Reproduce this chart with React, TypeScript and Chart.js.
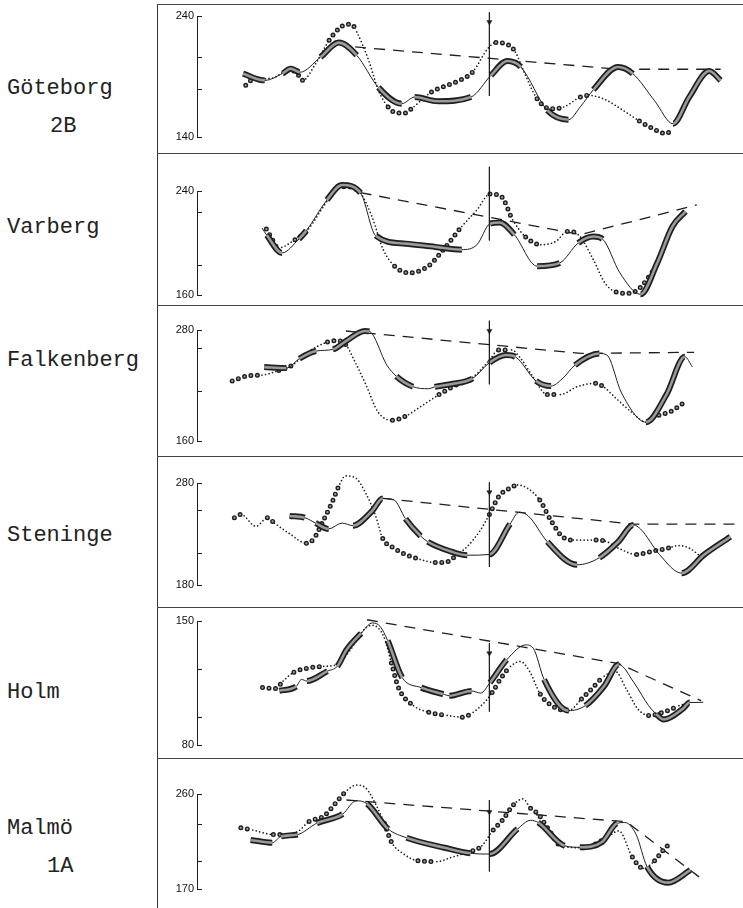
import React, { useEffect, useRef } from 'react';
import { Chart, registerables } from 'chart.js';
Chart.register(...registerables);

// ---------- station names ----------
const stationNames = ['Göteborg', 'Varberg', 'Falkenberg', 'Steninge', 'Holm', 'Malmö'];
const stationCodes = ['2B', '', '', '', '', '1A'];

// ---------- Göteborg 2B ----------
const gbSolidX = [8.5, 12.5, 15.8, 17.3, 19.0, 22.8, 26.2, 29.5, 33.5, 37.8, 40.2, 44.5, 50.6, 54.3, 57.3, 59.8, 64.7, 68.6, 70.8, 73.2, 77.8, 80.5, 84.5, 87.9, 90.9, 94.6, 96.7];
const gbSolidY = [192.3, 186.8, 192.5, 196.5, 193.5, 206, 218, 207.5, 181, 167.5, 173, 169.5, 173, 191, 202.8, 197.9, 162, 154.3, 165, 179, 197.9, 192.3, 170, 151, 173, 194.5, 186.8];
const gbSolidThick = [1, 0, 1, 1, 0, 1, 1, 0, 1, 0, 1, 1, 0, 1, 1, 0, 1, 0, 0, 1, 1, 0, 0, 1, 1, 1, 0];
const gbDotX = [9.0, 10.0, 14.0, 16.7, 18.3, 19.5, 21.9, 24.4, 26.2, 27.7, 28.6, 29.5, 31.7, 33.5, 35.3, 36.9, 38.4, 39.6, 43.3, 45.7, 48.8, 50.9, 53.7, 55.2, 57.6, 58.8, 60.4, 62.8, 65.3, 67.7, 70.8, 72.3, 75.0, 78.7, 81.7, 84.2, 86.6, 87.9];
const gbDotY = [182.7, 186.8, 188.8, 195, 193.7, 186.8, 200.6, 219.9, 229.5, 233.1, 233, 226.8, 203.4, 178.6, 164.8, 159.8, 159.8, 163.4, 177.2, 181.9, 187.4, 193.7, 213, 218, 215.8, 210.2, 193.7, 171.7, 163.4, 164.8, 173, 174.4, 171.7, 162, 153.2, 146.9, 142.8, 146.9];
const gbDotBig = [1, 0, 0, 1, 1, 0, 0, 1, 1, 1, 1, 0, 0, 0, 1, 1, 1, 0, 1, 1, 1, 0, 0, 1, 1, 0, 0, 1, 1, 0, 1, 0, 0, 0, 1, 1, 1, 0];
const gbDashX = [29.2, 77.8, 96.7];
const gbDashY = [214.4, 196, 196];
const gbTicks = [140, 180, 206, 240];
const gbArrow = [243, 174, 235];

// ---------- Varberg ----------
const vbSolidX = [12.0, 12.9, 15.7, 18.8, 20.2, 24.0, 26.8, 30.2, 33.0, 38.5, 44.0, 48.9, 51.7, 54.1, 55.9, 58.6, 62.8, 67.0, 70.4, 73.2, 74.9, 78.1, 81.9, 85.0, 87.8, 90.2];
const vbSolidY = [211.5, 206, 192.4, 203, 209.5, 233.1, 244.6, 238.5, 205.6, 199.5, 197, 194.9, 198.7, 214.8, 215.8, 206.4, 182.2, 184.7, 200, 205, 203, 177, 160.5, 184.7, 212.7, 224.2];
const vbSolidThick = [0, 1, 0, 1, 0, 1, 1, 0, 1, 1, 1, 0, 0, 1, 1, 0, 1, 0, 1, 1, 0, 0, 1, 1, 1, 0];
const vbDotX = [12.8, 13.6, 15.0, 18.1, 20.2, 24.7, 27.1, 30.2, 32.3, 34.4, 36.5, 39.2, 42.7, 45.5, 48.9, 51.7, 54.1, 56.2, 58.3, 60.7, 63.5, 66.3, 68.4, 70.4, 73.2, 75.3, 77.4, 79.8, 81.5, 84.5];
const vbDotY = [210.7, 205.1, 196.2, 202.5, 208.9, 235.7, 243.3, 238.2, 220.4, 194.9, 182.2, 177, 182.2, 194.9, 212.7, 225.5, 237.7, 235.7, 217.8, 204.6, 198.7, 201.3, 208.9, 206.4, 187.2, 169.4, 162.3, 161.3, 164.3, 180];
const vbDotBig = [1, 1, 0, 1, 0, 0, 1, 0, 0, 0, 1, 1, 1, 1, 0, 0, 1, 1, 0, 1, 0, 0, 1, 0, 0, 0, 1, 1, 1, 0];
const vbDashX = [30.2, 70.8, 92.3];
const vbDashY = [238.7, 206.4, 229.3];
const vbTicks = [160, 183, 224, 240];
const vbArrow = [258.6, 202, 250];

// ---------- Falkenberg ----------
const fbSolidX = [12.4, 16.5, 18.9, 22.0, 25.1, 27.5, 31.0, 31.8, 35.1, 36.8, 39.9, 42.7, 43.9, 46.8, 50.9, 54.0, 57.1, 58.8, 62.6, 65.4, 67.4, 69.8, 74.3, 75.7, 78.4, 82.9, 86.7, 90.1, 91.5];
const fbSolidY = [239.9, 238.8, 249, 257.3, 259, 268, 278.9, 278.5, 241.7, 230, 218.7, 216.5, 218.5, 221.3, 227.6, 244.7, 252.9, 251, 225, 219.4, 226.9, 242, 254.6, 252.9, 212, 180.4, 210.2, 251, 239.9];
const fbSolidThick = [1, 0, 1, 0, 1, 1, 1, 0, 0, 1, 0, 0, 1, 1, 0, 1, 1, 0, 1, 0, 0, 1, 0, 0, 0, 1, 1, 0, 0];
const fbDotX = [6.5, 9.6, 12.0, 15.1, 17.5, 20.6, 24.1, 26.1, 27.5, 29.2, 31.3, 33.4, 36.1, 38.5, 41.3, 44.7, 47.5, 50.9, 54.0, 55.7, 58.1, 59.8, 61.9, 64.7, 67.1, 70.2, 73.6, 75.3, 77.0, 80.5, 82.9, 85.3, 87.4, 89.8];
const fbDotY = [225, 230.6, 231.3, 236.2, 241.7, 256.6, 267, 268.5, 264, 245.4, 219.4, 191.6, 182.3, 186.8, 197.2, 210.2, 219.4, 228.7, 247.3, 258.5, 258.5, 249.2, 230.6, 210.2, 210.2, 218.7, 222.4, 217.6, 208.3, 190, 180.4, 187.9, 191.6, 200.9];
const fbDotBig = [1, 1, 0, 1, 0, 0, 1, 1, 0, 0, 0, 0, 1, 0, 0, 1, 1, 0, 0, 1, 0, 0, 0, 1, 0, 0, 1, 0, 0, 0, 0, 1, 1, 0];
const fbDashX = [27.5, 70.9, 91.8];
const fbDashY = [278.9, 254.7, 255.9];
const fbTicks = [160, 214, 261, 280];
const fbArrow = [290, 221.3, 279];

// ---------- Steninge ----------
const snSolidX = [17.1, 19.9, 21.9, 24.3, 26.8, 28.8, 32.3, 34.3, 36.4, 38.5, 41.3, 42.6, 46.8, 49.9, 54.0, 57.8, 59.5, 61.2, 64.7, 70.2, 74.3, 77.8, 80.6, 81.9, 85.4, 89.5, 93.7, 98.5];
const snSolidY = [247.6, 246, 240.7, 235, 240.7, 238.2, 252.3, 264.9, 263.3, 245, 228, 222.4, 213, 209.2, 209.9, 239.7, 251.4, 247.6, 222.4, 199.8, 206.7, 222.4, 238.8, 235, 209.9, 191.6, 209.9, 227.2];
const snSolidThick = [1, 0, 1, 0, 0, 1, 1, 0, 0, 1, 0, 1, 1, 0, 1, 0, 0, 0, 1, 0, 1, 1, 0, 0, 0, 1, 1, 0];
const snDotX = [6.9, 8.1, 10.9, 13.0, 14.3, 17.1, 20.2, 21.6, 23.3, 25.0, 26.1, 27.4, 29.2, 31.2, 33.0, 34.3, 36.4, 38.5, 41.2, 44.0, 46.1, 48.1, 49.9, 52.3, 54.0, 55.7, 58.1, 59.2, 61.2, 63.3, 65.4, 67.5, 69.5, 73.7, 75.4, 77.8, 81.2, 84.0, 87.1, 88.8, 90.9, 93.3];
const snDotY = [246, 249.2, 237.5, 246, 240.7, 230.3, 220.9, 225.6, 242.9, 261.8, 275.9, 286.9, 285.3, 269.6, 247.6, 225.6, 216.2, 209.9, 205.1, 202, 202.6, 209.9, 217.7, 233.5, 249.2, 266.5, 275.9, 278.1, 274.3, 263.3, 242.9, 227.2, 224, 224, 223.1, 216.2, 209.9, 213, 216.2, 218.7, 216.2, 206.7];
const snDotBig = [1, 0, 0, 1, 0, 0, 1, 1, 1, 1, 0, 0, 0, 0, 0, 1, 1, 1, 0, 1, 1, 0, 0, 0, 1, 1, 1, 0, 0, 1, 1, 1, 0, 1, 0, 0, 1, 1, 0, 0, 0, 0];
const snDashX = [34.3, 80.6, 99.5];
const snDashY = [264.9, 239.7, 239.7];
const snTicks = [180, 211, 254, 280];
const snArrow = [280.6, 197.9, 271];

// ---------- Holm ----------
const hoSolidX = [15.2, 18.3, 19.3, 20.3, 24.1, 25.9, 27.6, 30.3, 32.4, 33.8, 35.2, 37.9, 41.4, 45.5, 46.6, 50.7, 52.4, 54.1, 57.2, 60.7, 62.1, 64.1, 68.6, 71.7, 75.2, 77.9, 80.7, 83.4, 84.8, 86.2, 89.7, 91.0, 93.5];
const hoSolidY = [110.6, 113, 117, 116.1, 121.7, 124.4, 133.7, 143, 148.9, 147, 139, 118, 112.4, 108.7, 107.8, 110.5, 109.3, 115.2, 128.1, 136.5, 134.6, 117, 99.4, 102.2, 113.3, 125.4, 115.2, 102.2, 97.5, 94.4, 100.4, 104, 104.1];
const hoSolidThick = [1, 0, 0, 1, 0, 1, 1, 0, 0, 0, 1, 0, 1, 0, 1, 0, 0, 1, 0, 0, 0, 1, 0, 1, 1, 0, 0, 0, 1, 1, 1, 0, 0];
const hoDotX = [12.1, 14.5, 15.9, 17.9, 20.7, 23.4, 25.9, 28.3, 31.0, 32.4, 34.5, 35.9, 37.2, 40.0, 42.8, 46.2, 49.0, 51.0, 53.1, 54.5, 56.2, 57.9, 59.7, 61.4, 63.4, 65.5, 68.6, 71.0, 73.1, 75.2, 77.2, 79.3, 81.4, 83.4, 86.9, 89.0, 91.0];
const hoDotY = [112.4, 111.9, 116.1, 121.1, 123.5, 124.4, 125.4, 133.7, 145.7, 147.6, 141.1, 126.3, 112.4, 102.2, 98.5, 96.7, 95.7, 98.5, 104.1, 109.6, 118, 124.4, 127.2, 121.7, 108.7, 102.2, 99.4, 105.9, 112.4, 118.9, 121.7, 111.5, 100.4, 96.7, 99.4, 102.2, 104.1];
const hoDotBig = [1, 1, 0, 1, 1, 0, 0, 0, 0, 0, 0, 1, 1, 0, 1, 0, 1, 0, 0, 1, 1, 0, 0, 0, 1, 1, 0, 1, 1, 0, 0, 0, 0, 1, 1, 0, 0];
const hoDashX = [31.4, 77.9, 93.1];
const hoDashY = [150.7, 125.9, 105];
const hoTicks = [80, 96, 123, 150];
const hoArrow = [137.4, 98.9, 131.8];

// ---------- Malmö 1A ----------
const mmSolidX = [9.9, 13.9, 15.5, 18.6, 22.1, 26.9, 29.4, 31.4, 35.3, 38.7, 45.7, 50.5, 54.0, 59.2, 61.6, 63.0, 67.9, 70.7, 74.8, 77.6, 79.0, 81.1, 83.1, 87.0, 91.1];
const mmSolidY = [216.5, 213.8, 219.8, 221.6, 232.3, 241, 253.6, 250.8, 226.9, 218.5, 209.1, 203.8, 203.1, 226.9, 235.1, 233, 210.9, 209.5, 214.5, 232.3, 233, 221.6, 191.3, 176, 187.8];
const mmSolidThick = [1, 0, 1, 0, 1, 0, 0, 1, 0, 1, 1, 0, 1, 0, 0, 1, 0, 1, 1, 0, 0, 0, 1, 1, 0];
const mmDotX = [8.1, 10.3, 14.1, 15.8, 18.6, 20.7, 23.5, 25.5, 27.3, 29.4, 31.1, 33.2, 34.6, 35.9, 38.0, 40.8, 44.3, 47.1, 49.8, 52.6, 54.7, 56.4, 58.5, 60.2, 61.6, 63.0, 65.1, 67.2, 71.3, 75.5, 77.9, 80.4, 82.4, 84.5, 85.9, 87.0];
const mmDotY = [228, 225.9, 221.6, 221.6, 224.4, 234, 239.4, 250.8, 261.4, 268.5, 266, 248.3, 232.3, 214.5, 203.8, 196.7, 196, 200.2, 204.5, 210.9, 225.9, 235.1, 250.1, 255.4, 246.5, 241.1, 225.1, 210.9, 209.1, 218, 225.1, 200.2, 189.6, 196.7, 205.6, 211.6];
const mmDotBig = [1, 0, 1, 0, 0, 1, 1, 1, 0, 0, 0, 0, 1, 0, 0, 1, 0, 0, 1, 0, 1, 1, 0, 0, 1, 1, 1, 0, 1, 0, 0, 1, 0, 1, 1, 0];
const mmDashX = [27.6, 79.3, 93.2];
const mmDashY = [254.3, 233.7, 179.6];
const mmTicks = [170, 197, 232, 260];
const mmArrow = [254.3, 186.7, 243];

const arrowX = 54;

// ---------- layout (pixels, not data) ----------
const PAGE_W = 743;
const PAGE_H = 908;
const FRAME_LEFT = 157;
const CANVAS_W = PAGE_W - FRAME_LEFT;
const AXIS_W = 40;
const panelTop = [4, 153, 305, 456, 607, 758];
const panelBottom = [153, 305, 456, 607, 758, 908];
const tickTopPx = [16, 191, 330, 483, 621, 794];
const tickBotPx = [137, 295, 441, 585, 745, 889];
const nameCenterY = [89, 228, 361, 536, 693, 829];
const codeCenterY = [127, 0, 0, 0, 0, 867];
const codeLeft = [50, 0, 0, 0, 0, 47];

const PANELS = [
  { sx: gbSolidX, sy: gbSolidY, st: gbSolidThick, dx: gbDotX, dy: gbDotY, db: gbDotBig, ex: gbDashX, ey: gbDashY, ticks: gbTicks, arrow: gbArrow },
  { sx: vbSolidX, sy: vbSolidY, st: vbSolidThick, dx: vbDotX, dy: vbDotY, db: vbDotBig, ex: vbDashX, ey: vbDashY, ticks: vbTicks, arrow: vbArrow },
  { sx: fbSolidX, sy: fbSolidY, st: fbSolidThick, dx: fbDotX, dy: fbDotY, db: fbDotBig, ex: fbDashX, ey: fbDashY, ticks: fbTicks, arrow: fbArrow },
  { sx: snSolidX, sy: snSolidY, st: snSolidThick, dx: snDotX, dy: snDotY, db: snDotBig, ex: snDashX, ey: snDashY, ticks: snTicks, arrow: snArrow },
  { sx: hoSolidX, sy: hoSolidY, st: hoSolidThick, dx: hoDotX, dy: hoDotY, db: hoDotBig, ex: hoDashX, ey: hoDashY, ticks: hoTicks, arrow: hoArrow },
  { sx: mmSolidX, sy: mmSolidY, st: mmSolidThick, dx: mmDotX, dy: mmDotY, db: mmDotBig, ex: mmDashX, ey: mmDashY, ticks: mmTicks, arrow: mmArrow },
];

const INK = '#1e1e1e';

const inwardTicks = {
  id: 'inwardTicks',
  afterDraw(chart: any) {
    const s = chart.scales.y;
    const ctx = chart.ctx;
    const left = chart.chartArea.left;
    ctx.save();
    ctx.strokeStyle = INK;
    ctx.lineWidth = 1;
    s.ticks.forEach((t: any) => {
      const y = Math.round(s.getPixelForValue(t.value)) + 0.5;
      ctx.beginPath();
      ctx.moveTo(left, y);
      ctx.lineTo(left + 5, y);
      ctx.stroke();
    });
    ctx.restore();
  },
};

function pts(xs: number[], ys: number[]) {
  return xs.map((x, i) => ({ x, y: ys[i] }));
}

function buildConfig(idx: number): any {
  const p = PANELS[idx];
  const solid = pts(p.sx, p.sy);
  const dots = pts(p.dx, p.dy);
  const dash = pts(p.ex, p.ey);
  const tickMin = p.ticks[0];
  const tickMax = p.ticks[p.ticks.length - 1];
  const thick = (c: any) => p.st[c.p0DataIndex] === 1;
  const big = (c: any) => p.db[c.p0DataIndex] === 1;
  const common = {
    pointRadius: 0,
    clip: false,
    capBezierPoints: false,
    cubicInterpolationMode: 'monotone',
  };
  return {
    type: 'line',
    data: {
      datasets: [
        {
          ...common,
          order: 9,
          data: dash,
          borderColor: INK,
          borderWidth: 1.3,
          borderDash: [11, 8],
          cubicInterpolationMode: 'default',
          tension: 0,
        },
        {
          ...common,
          order: 8,
          data: dots,
          borderColor: INK,
          borderCapStyle: 'round',
          segment: {
            borderWidth: (c: any) => (big(c) ? 5 : 1.7),
            borderDash: (c: any) => (big(c) ? [0, 6.5] : [0, 3.6]),
            borderCapStyle: () => 'round',
          },
        },
        {
          ...common,
          order: 7,
          data: dots,
          borderColor: 'rgba(0,0,0,0)',
          borderCapStyle: 'round',
          segment: {
            borderColor: (c: any) => (big(c) ? '#a0a0a0' : 'rgba(0,0,0,0)'),
            borderWidth: (c: any) => (big(c) ? 2.2 : 0.5),
            borderDash: (c: any) => (big(c) ? [0, 6.5] : [0, 3.6]),
            borderCapStyle: () => 'round',
          },
        },
        {
          ...common,
          order: 6,
          data: solid,
          borderColor: INK,
          segment: {
            borderWidth: (c: any) => (thick(c) ? 6 : 1),
          },
        },
        {
          ...common,
          order: 5,
          data: solid,
          borderColor: 'rgba(0,0,0,0)',
          segment: {
            borderColor: (c: any) => (thick(c) ? '#9a9a9a' : 'rgba(0,0,0,0)'),
            borderWidth: (c: any) => (thick(c) ? 2.6 : 0.5),
          },
        },
        {
          ...common,
          order: 4,
          data: [
            { x: arrowX, y: p.arrow[0] },
            { x: arrowX, y: p.arrow[1] },
          ],
          borderColor: INK,
          borderWidth: 1,
          cubicInterpolationMode: 'default',
          tension: 0,
        },
        {
          order: 3,
          clip: false,
          data: [{ x: arrowX, y: p.arrow[2] }],
          showLine: false,
          pointStyle: 'triangle',
          pointRotation: 180,
          pointRadius: 3,
          pointBackgroundColor: INK,
          pointBorderColor: INK,
          pointBorderWidth: 0.5,
        },
      ],
    },
    options: {
      responsive: false,
      maintainAspectRatio: false,
      animation: false,
      events: [],
      layout: {
        padding: {
          top: tickTopPx[idx] - panelTop[idx],
          bottom: panelBottom[idx] - tickBotPx[idx],
          left: 0,
          right: 0,
        },
      },
      plugins: { legend: { display: false }, tooltip: { enabled: false } },
      scales: {
        x: { type: 'linear', min: 0, max: 100, display: false },
        y: {
          type: 'linear',
          min: tickMin,
          max: tickMax,
          afterBuildTicks: (s: any) => {
            s.ticks = p.ticks.map((v) => ({ value: v }));
          },
          afterFit: (s: any) => {
            s.width = AXIS_W;
          },
          grid: { display: false, drawTicks: false },
          border: { display: true, color: INK, width: 1 },
          ticks: {
            autoSkip: false,
            padding: 3,
            color: '#111',
            font: { family: 'Liberation Sans', size: 11 },
            callback: (v: any) => (v === tickMin || v === tickMax ? String(v) : ''),
          },
        },
      },
    },
    plugins: [inwardTicks],
  };
}

function Panel({ idx }: { idx: number }) {
  const ref = useRef<HTMLCanvasElement | null>(null);
  useEffect(() => {
    if (!ref.current) return;
    const chart = new Chart(ref.current, buildConfig(idx));
    return () => chart.destroy();
  }, [idx]);
  const h = panelBottom[idx] - panelTop[idx];
  return (
    <canvas
      ref={ref}
      width={CANVAS_W}
      height={h}
      style={{ position: 'absolute', left: FRAME_LEFT, top: panelTop[idx], width: CANVAS_W, height: h }}
    />
  );
}

const labelStyle: React.CSSProperties = {
  position: 'absolute',
  fontFamily: "'Liberation Mono', 'DejaVu Sans Mono', monospace",
  fontSize: 22,
  lineHeight: '22px',
  color: '#222',
  whiteSpace: 'pre',
};

export default function App() {
  return (
    <div
      style={{
        position: 'absolute',
        left: 0,
        top: 0,
        width: PAGE_W,
        height: PAGE_H,
        background: '#fff',
        overflow: 'hidden',
      }}
    >
      {/* left frame line */}
      <div style={{ position: 'absolute', left: FRAME_LEFT, top: panelTop[0], width: 1, height: PAGE_H - panelTop[0], background: '#333' }} />
      {/* panel separators */}
      {panelTop.map((t, i) => (
        <div key={'sep' + i} style={{ position: 'absolute', left: FRAME_LEFT, top: t, width: CANVAS_W, height: 1, background: '#444' }} />
      ))}
      {PANELS.map((_, i) => (
        <Panel key={'p' + i} idx={i} />
      ))}
      {stationNames.map((n, i) => (
        <div key={'n' + i} style={{ ...labelStyle, left: 7, top: nameCenterY[i] - 11 }}>
          {n}
        </div>
      ))}
      {stationCodes.map((c, i) =>
        c ? (
          <div key={'c' + i} style={{ ...labelStyle, left: codeLeft[i], top: codeCenterY[i] - 11 }}>
            {c}
          </div>
        ) : null
      )}
    </div>
  );
}
